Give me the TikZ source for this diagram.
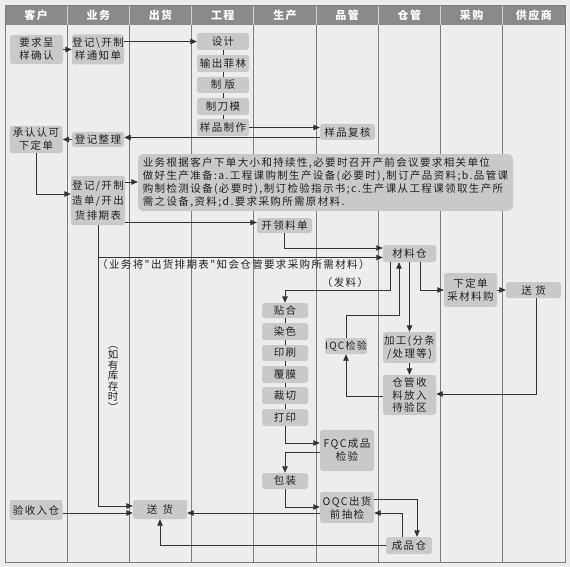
\documentclass[tikz,border=0pt]{standalone}
\usepackage{fontspec}
\newfontfamily\cjk[LetterSpace=13]{Noto Sans CJK SC}
\usetikzlibrary{arrows.meta}
\definecolor{paper}{HTML}{EDEDED}
\definecolor{boxc}{HTML}{C9C9C9}
\definecolor{hdr}{HTML}{8A8A8A}
\definecolor{lanec}{HTML}{7C7C7C}
\definecolor{linec}{HTML}{333333}
\definecolor{txtc}{HTML}{222222}
\tikzset{
  box/.style={fill=boxc, rounded corners=2.5pt, inner sep=0pt, align=center,
    font=\cjk\fontsize{10.5}{13}\selectfont, text=txtc},
  ln/.style={draw=linec, line width=0.9pt},
  arr/.style={ln, -{Triangle[length=6.5pt,width=5.5pt]}},
  hdrtxt/.style={text=white, font=\cjk\bfseries\fontsize{11}{12}\selectfont},
  lbl/.style={font=\cjk\fontsize{10.5}{12}\selectfont, text=txtc, inner sep=0pt},
}
\begin{document}
\begin{tikzpicture}[x=1pt,y=-1pt]
\fill[paper] (0,0) rectangle (570,567);
\useasboundingbox (0,0) rectangle (570,567);
% header and lanes
\fill[hdr] (5,5) rectangle (565,25);
\foreach \i in {1,...,8} {
  \draw[lanec, line width=0.8pt] ({5+62.22*\i},25) -- ({5+62.22*\i},562);
  \draw[white!60!hdr, line width=0.8pt] ({5+62.22*\i},5) -- ({5+62.22*\i},25);
}
\draw[lanec, line width=0.8pt] (5,5) rectangle (565,562);
\foreach \t [count=\i from 0] in {客户,业务,出货,工程,生产,品管,仓管,采购,供应商}
  \node[hdrtxt] (h\i) at ({36.1+62.22*\i},15) {\t};

% nodes
\node[box, minimum width=53pt, minimum height=29pt] (n1) at (36.5,49.5) {要求呈\\样确认};
\node[box, minimum width=52pt, minimum height=30pt] (n2) at (98,49.5) {登记\textbackslash 开制\\样通知单};
\node[box, minimum width=52pt, minimum height=17pt] (e1) at (223,41.5) {设计};
\node[box, minimum width=52pt, minimum height=17pt] (e2) at (223,63.5) {输出菲林};
\node[box, minimum width=52pt, minimum height=16pt] (e3) at (223,85) {制\,\,版};
\node[box, minimum width=52pt, minimum height=17pt] (e4) at (223,106.5) {制刀模};
\node[box, minimum width=52pt, minimum height=17pt] (e5) at (223,127.5) {样品制作};
\node[box, minimum width=55pt, minimum height=16pt] (q1) at (347.5,132) {样品复核};
\node[box, minimum width=52pt, minimum height=15pt] (n3) at (98,139.5) {登记整理};
\node[box, minimum width=53pt, minimum height=27pt] (c2) at (36,139.5) {承认认可\\下定单};
\node[box, minimum width=54pt, minimum height=49pt, font=\cjk\fontsize{10.5}{15}\selectfont] (n4) at (98,200.5) {登记/开制\\造单/开出\\货排期表};
\node[box, minimum width=375pt, minimum height=57pt, align=left, rounded corners=5pt,
  font=\cjk\fontsize{10.5}{13}\selectfont] (big) at (325.5,182.5)
  {业务根据客户下单大小和持续性,必要时召开产前会议要求相关单位\\
   做好生产准备:a.工程课购制生产设备(必要时),制订产品资料;b.品管课\\
   购制检测设备(必要时),制订检验指示书;c.生产课从工程课领取生产所\\
   需之设备,资料;d.要求采购所需原材料.};
\node[box, minimum width=55pt, minimum height=15pt] (p0) at (284.5,225.5) {开领料单};
\node[box, minimum width=53pt, minimum height=17pt] (cl) at (409.5,253.5) {材料仓};
\node[box, minimum width=46pt, minimum height=15pt] (p1) at (285,310.5) {贴合};
\node[box, minimum width=46pt, minimum height=17pt] (p2) at (285,331.5) {染色};
\node[box, minimum width=46pt, minimum height=16pt] (p3) at (285,353) {印刷};
\node[box, minimum width=46pt, minimum height=17pt] (p4) at (285,374.5) {覆膜};
\node[box, minimum width=46pt, minimum height=17pt] (p5) at (285,395.5) {裁切};
\node[box, minimum width=46pt, minimum height=17pt] (p6) at (285,417.5) {打印};
\node[box, minimum width=46pt, minimum height=16pt] (pkg) at (285,481) {包装};
\node[box, minimum width=54pt, minimum height=41pt] (fqc) at (347,450.5) {FQC成品\\检验};
\node[box, minimum width=54pt, minimum height=31pt] (oqc) at (347,507.5) {OQC出货\\前抽检};
\node[box, minimum width=46pt, minimum height=17pt] (fg) at (409,545.5) {成品仓};
\node[box, minimum width=42pt, minimum height=16pt, font=\cjk\fontsize{10}{12}\selectfont] (iqc) at (346,346) {IQC检验};
\node[box, minimum width=53pt, minimum height=31pt] (proc) at (409.5,347.5) {加工(分条\\/处理等)};
\node[box, minimum width=53pt, minimum height=40pt, font=\cjk\fontsize{10.5}{12.5}\selectfont] (recv) at (409.5,395) {仓管收\\料放入\\待验区};
\node[box, minimum width=53pt, minimum height=34pt] (po) at (470.5,290) {下定单\\采材料购};
\node[box, minimum width=55pt, minimum height=16pt] (sup) at (533.5,290) {送\,\,货};
\node[box, minimum width=54pt, minimum height=19pt] (ship) at (160,509.5) {送\,\,\,货};
\node[box, minimum width=53pt, minimum height=20pt] (acc) at (36,510) {验收入仓};

% labels
\node[lbl, anchor=west] (l1) at (97,264.5) {（业务将"出货排期表"知会仓管要求采购所需材料）};
\node[lbl] (l2) at (345,283) {（发料）};
\node[lbl, align=center, font=\cjk\fontsize{10.5}{10.5}\selectfont] (l3) at (113,379) {︵\\如\\有\\库\\存\\时\\︶};

% connectors
\draw[arr] (n1.east) -- (n2.west);
\draw[arr] (n2.east |- e1) -- (e1.west);
\draw[ln] (e1.south) -- (e2.north) (e2.south) -- (e3.north) (e3.south) -- (e4.north) (e4.south) -- (e5.north);
\draw[arr] (e5.east) -- (e5.east -| q1.west);
\draw[arr] (q1.west |- 0,137.5) -- (n3.east |- 0,137.5);
\draw[arr] (n3.west) -- (c2.east);
\draw[arr] (c2.south) |- (n4.west |- 0,194);
\draw[arr] (n4.east |- 0,182) -- (big.west |- 0,182);
\draw[arr] (n4.east |- 0,222.5) -- (p0.west |- 0,222.5);
\draw[arr] (p0.south) |- (cl.west |- 0,248);
\draw[arr] (n4.south) |- (cl.west |- 0,257.5);
\draw[arr] (n4.south) |- (ship.west |- 0,506);
\draw[arr] (cl.south -| 390,0) |- (p1.north |- 0,290) -- (p1.north);
\draw[ln] (p1.south) -- (p2.north) (p2.south) -- (p3.north) (p3.south) -- (p4.north)
  (p4.south) -- (p5.north) (p5.south) -- (p6.north);
\draw[arr] (p6.south) |- (fqc.west |- 0,443);
\draw[arr] (fqc.west |- 0,452) -| (pkg.north);
\draw[arr] (pkg.south) |- (oqc.west |- 0,507);
\draw[arr] (oqc.east |- 0,499) -| (fg.north -| 417,0);
\draw[arr] (fg.north -| 402,0) |- (oqc.east |- 0,513);
\draw[arr] (fg.west) -| (ship.south);
\draw[arr] (oqc.west |- 0,513) -- (ship.east |- 0,513);
\draw[arr] (acc.east |- 0,513) -- (ship.west |- 0,513);
\draw[arr] (cl.south -| 420,0) |- (po.west);
\draw[arr] (po.east) -- (sup.west);
\draw[arr] (sup.south -| 536,0) |- (recv.east |- 0,394);
\draw[arr] (cl.south) -- (proc.north);
\draw[arr] (proc.south) -- (recv.north);
\draw[arr] (recv.west |- 0,396) -| (iqc.south);
\draw[arr] (iqc.north) |- (399,315) -- (cl.south -| 399,0);
\end{tikzpicture}
\end{document}
